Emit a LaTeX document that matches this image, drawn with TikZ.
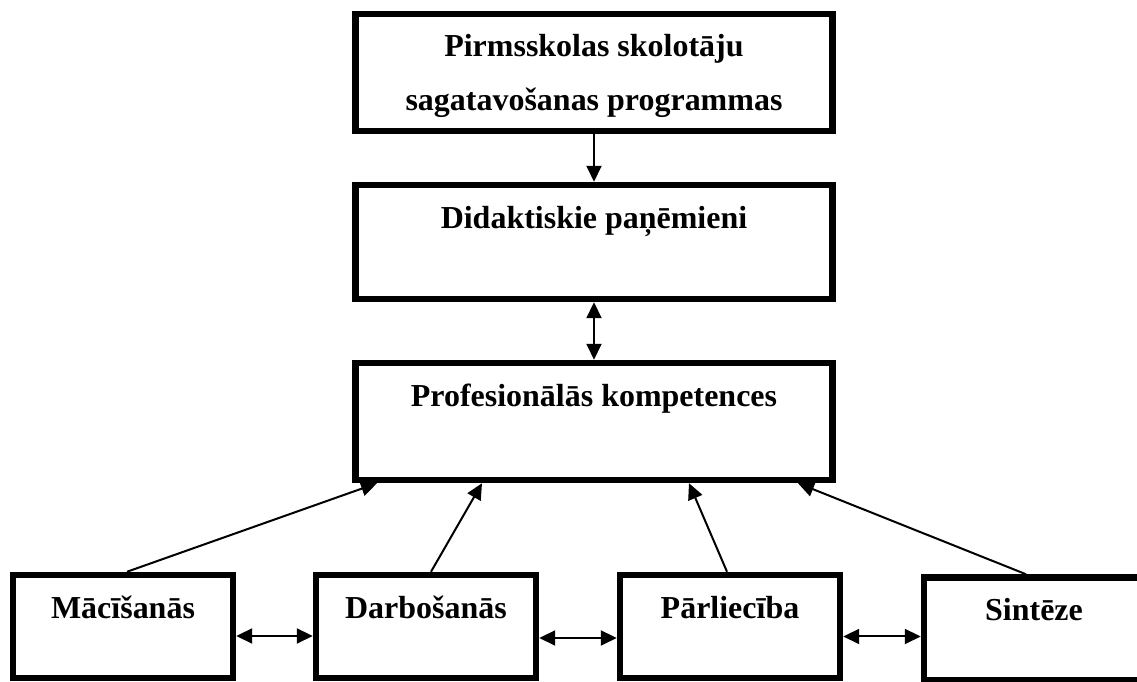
\documentclass[tikz,border=0pt]{standalone}
\usepackage{fontspec}
\setmainfont{Liberation Serif}
\usetikzlibrary{arrows.meta,calc,positioning}
\definecolor{ink}{HTML}{000000}

\begin{document}
\begin{tikzpicture}[
  x=0.02cm,y=0.02cm,
  font=\fontsize{18.2}{30.7}\selectfont\bfseries,
  line join=miter,
  box/.style={draw=ink,line width=0.13cm,inner sep=0pt,fill=white},
  topbox/.style={box,minimum width=9.54cm},
  smallbox/.style={box,minimum width=4.4cm,minimum height=2.06cm},
  boxtext/.style={anchor=base,text=ink,align=center,inner sep=0pt},
  link/.style={draw=ink,line width=0.04cm,-{Triangle[length=0.32cm,width=0.3cm]}},
  twolink/.style={link,{Triangle[length=0.32cm,width=0.3cm]}-{Triangle[length=0.32cm,width=0.3cm]}}
]
\useasboundingbox (0,0) rectangle (1137,682);
\clip (0,0) rectangle (1137,682);

% Column of three wide blocks
\node[topbox,minimum height=2.34cm] (prog) at (594,609.5) {};
\node[topbox,minimum height=2.28cm] (did) at (594,440) {};
\node[topbox,minimum height=2.34cm] (prof) at (594,260.5) {};

\node[boxtext] (progtxt) at ([yshift=-2.0cm]prog.north)
  {Pirmsskolas skolotāju\\sagatavošanas programmas};
\node[boxtext] (didtxt) at ([yshift=-0.93cm]did.north) {Didaktiskie paņēmieni};
\node[boxtext] (proftxt) at ([yshift=-0.93cm]prof.north) {Profesionālās kompetences};

% Row of four blocks, the last one runs off the page
\node[smallbox] (mac) at (123,55.5) {};
\node[smallbox] (darb) at (426,55.5) {};
\node[smallbox] (parl) at (730,55.5) {};
\node[smallbox] (sint) at (1034,53) {};

\node[boxtext] (mactxt) at ([yshift=-0.93cm]mac.north) {Mācīšanās};
\node[boxtext] (darbtxt) at ([yshift=-0.93cm]darb.north) {Darbošanās};
\node[boxtext] (parltxt) at ([yshift=-0.93cm]parl.north) {Pārliecība};
\node[boxtext] (sinttxt) at ([yshift=-0.93cm]sint.north) {Sintēze};

% Vertical links
\draw[link] (prog.south) -- (did.north);
\draw[twolink] (did.south) -- (prof.north);

% Links from the row up to the competences
\draw[link] ($(mac.north)+(4,0)$) -- ($(prof.south)+(-217,0)$);
\draw[link] ($(darb.north)+(5,0)$) -- ($(prof.south)+(-112,0)$);
\draw[link] ($(parl.north)+(-3,0)$) -- ($(prof.south)+(95,0)$);
\draw[link] ($(sint.north)+(-8,0)$) -- ($(prof.south)+(204,0)$);

% Links along the row
\draw[twolink] ([yshift=-0.19cm]mac.east) -- ([yshift=-0.19cm]darb.west);
\draw[twolink] ([yshift=-0.23cm]darb.east) -- ([yshift=-0.23cm]parl.west);
\draw[twolink] ([yshift=-0.2cm]parl.east) -- ([yshift=-0.2cm]parl.east -| sint.west);

\end{tikzpicture}
\end{document}
